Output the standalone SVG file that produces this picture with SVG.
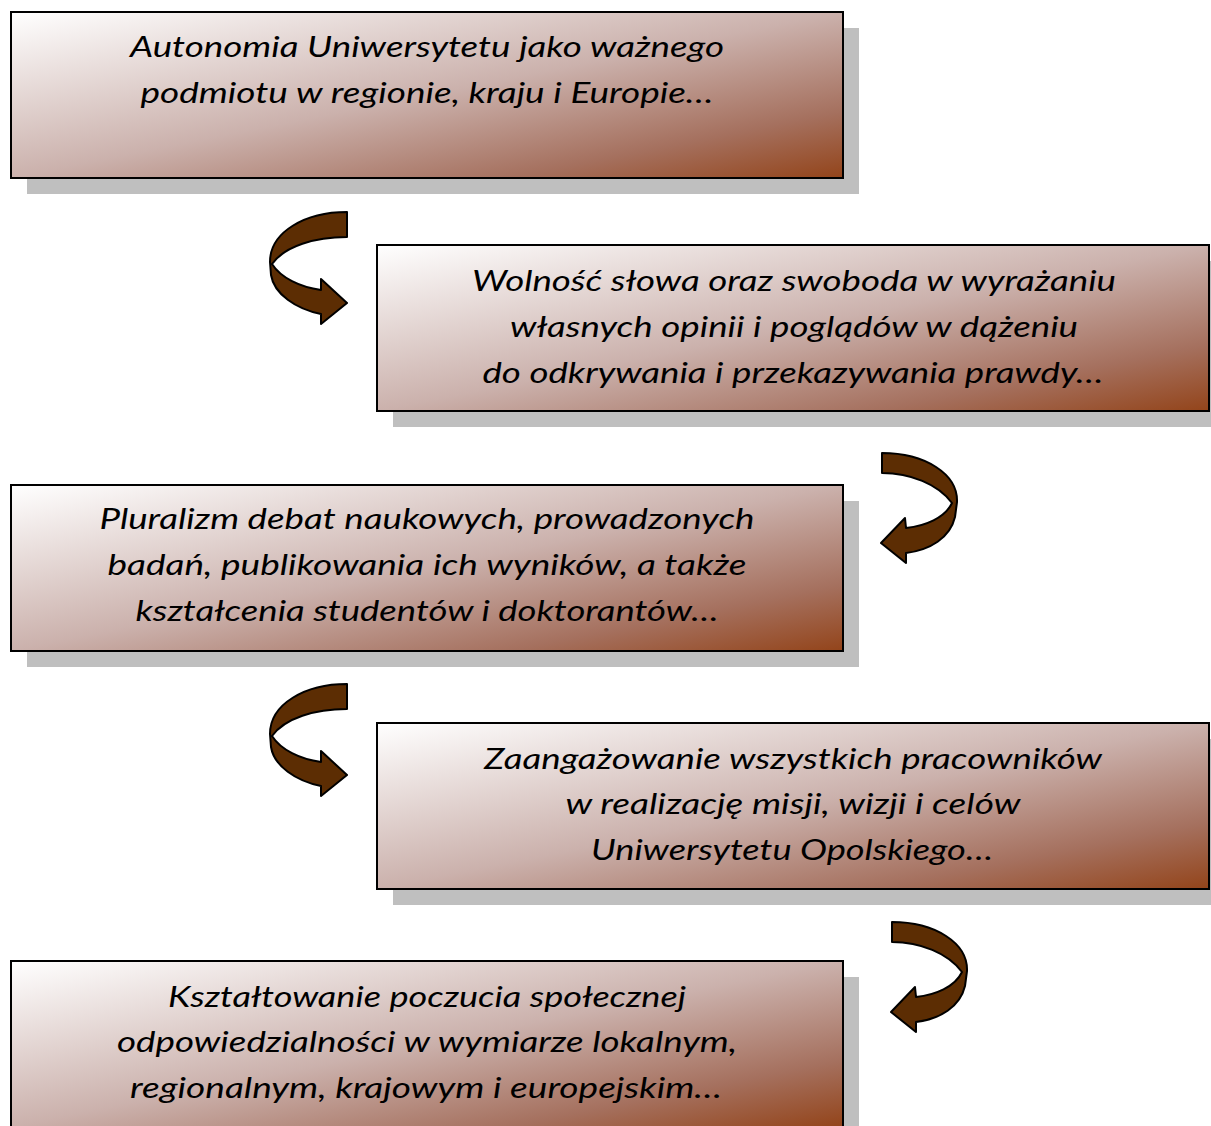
<svg xmlns="http://www.w3.org/2000/svg" width="1211" height="1126" viewBox="0 0 1211 1126">
<style>
.box{stroke:#000;stroke-width:2;fill:url(#g)}
.sh{fill:#bfbfbf}
.t{font-family:Lato,"Open Sans","Liberation Sans",sans-serif;font-style:italic;font-size:29px;fill:#000;text-anchor:middle}
.arr{fill:#5c2d03;stroke:#000;stroke-width:2;stroke-linejoin:round}
</style>
<defs>
<linearGradient id="g" x1="0" y1="0" x2="1" y2="1">
<stop offset="0" stop-color="#ffffff"/>
<stop offset="0.5" stop-color="#cbb1ac"/>
<stop offset="0.8" stop-color="#a5705e"/>
<stop offset="1" stop-color="#93441a"/>
</linearGradient>
<path id="arrL" d="M347,212 C305,212 270,232 270,262 L271,275 C274,294 296,309 321,314 L321,324 L347,303 L321,279 L321,290 C300,287 281,278 272,264 C285,246 315,237 347,237 Z"/>
<path id="arrR" d="M882,453 C925,453 958,474 957,502 L955,517 C950,538 930,550 906,553 L906,563 L881,543 L905,518 L906,528 C925,526 945,518 952,503 C938,484 910,473 882,473 Z"/>
</defs>
<g id="node1">
<rect class="sh" x="27" y="28" width="832" height="166"/>
<rect class="box" x="11" y="12" width="832" height="166"/>
<text class="t" x="427" y="57" textLength="594" lengthAdjust="spacingAndGlyphs">Autonomia Uniwersytetu jako ważnego</text>
<text class="t" x="427" y="103" textLength="573" lengthAdjust="spacingAndGlyphs">podmiotu w regionie, kraju i Europie…</text>
</g>
<g id="node2">
<rect class="sh" x="393" y="261" width="818" height="166"/>
<rect class="box" x="377" y="245" width="832" height="166"/>
<text class="t" x="794" y="291" textLength="644" lengthAdjust="spacingAndGlyphs">Wolność słowa oraz swoboda w wyrażaniu</text>
<text class="t" x="794" y="337" textLength="568" lengthAdjust="spacingAndGlyphs">własnych opinii i poglądów w dążeniu</text>
<text class="t" x="793" y="383" textLength="621" lengthAdjust="spacingAndGlyphs">do odkrywania i przekazywania prawdy…</text>
</g>
<g id="node3">
<rect class="sh" x="27" y="501" width="832" height="166"/>
<rect class="box" x="11" y="485" width="832" height="166"/>
<text class="t" x="427" y="529" textLength="655" lengthAdjust="spacingAndGlyphs">Pluralizm debat naukowych, prowadzonych</text>
<text class="t" x="427" y="575" textLength="639" lengthAdjust="spacingAndGlyphs">badań, publikowania ich wyników, a także</text>
<text class="t" x="427" y="621" textLength="583" lengthAdjust="spacingAndGlyphs">kształcenia studentów i doktorantów…</text>
</g>
<g id="node4">
<rect class="sh" x="393" y="739" width="818" height="166"/>
<rect class="box" x="377" y="723" width="832" height="166"/>
<text class="t" x="793" y="769" textLength="618" lengthAdjust="spacingAndGlyphs">Zaangażowanie wszystkich pracowników</text>
<text class="t" x="793" y="814" textLength="455" lengthAdjust="spacingAndGlyphs">w realizację misji, wizji i celów</text>
<text class="t" x="792" y="860" textLength="402" lengthAdjust="spacingAndGlyphs">Uniwersytetu Opolskiego…</text>
</g>
<g id="node5">
<rect class="sh" x="27" y="977" width="832" height="166"/>
<rect class="box" x="11" y="961" width="832" height="166"/>
<text class="t" x="427" y="1007" textLength="518" lengthAdjust="spacingAndGlyphs">Kształtowanie poczucia społecznej</text>
<text class="t" x="427" y="1052" textLength="620" lengthAdjust="spacingAndGlyphs">odpowiedzialności w wymiarze lokalnym,</text>
<text class="t" x="426" y="1098" textLength="592" lengthAdjust="spacingAndGlyphs">regionalnym, krajowym i europejskim…</text>
</g>
<g id="connectors">
<use href="#arrL" class="arr"/>
<use href="#arrR" class="arr"/>
<use href="#arrL" class="arr" transform="translate(0,472)"/>
<use href="#arrR" class="arr" transform="translate(10,469)"/>
</g>
</svg>
